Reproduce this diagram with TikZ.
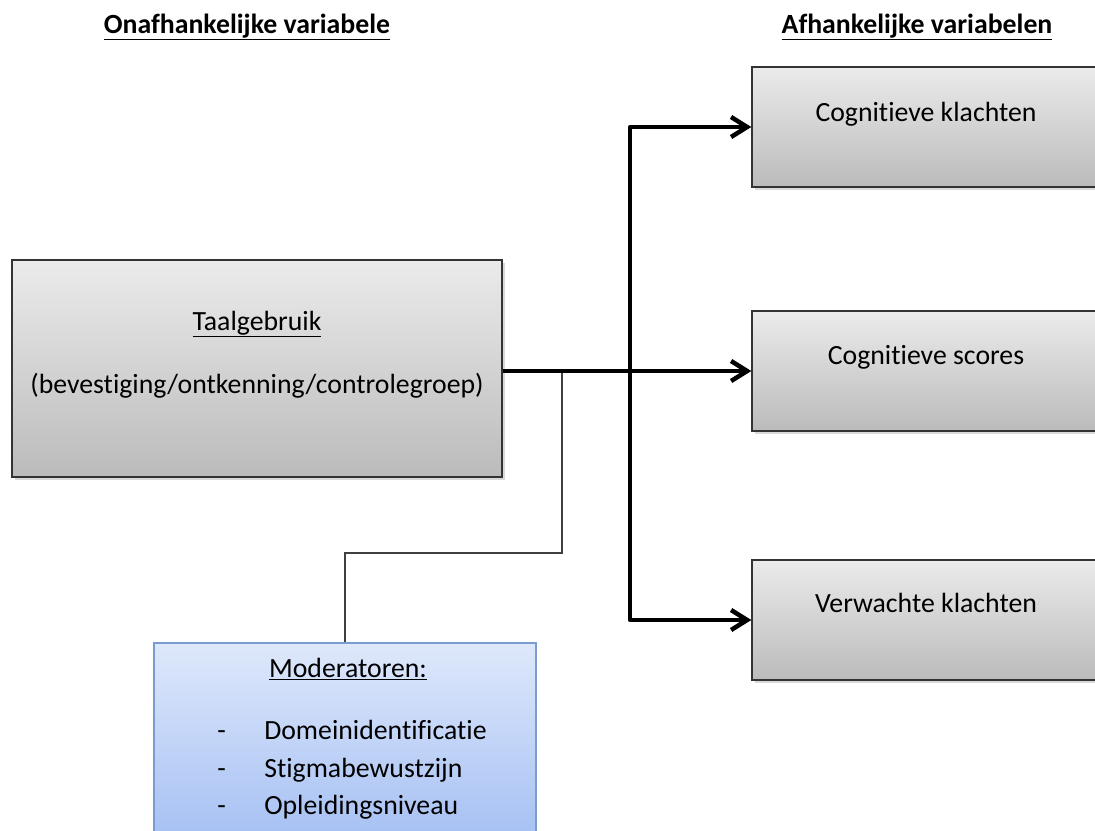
\documentclass[tikz,border=0pt]{standalone}
\usepackage{fontspec}
\setmainfont{Carlito}[Ligatures=NoCommon]
\usepackage{tikz}
\usetikzlibrary{arrows.meta,shadows}
\definecolor{grijsboven}{HTML}{EBEBEB}
\definecolor{grijsonder}{HTML}{BBBBBB}
\definecolor{blauwboven}{HTML}{DEE8FB}
\definecolor{blauwonder}{HTML}{9DBAF2}
\definecolor{blauwrand}{HTML}{7A9CCF}

\begin{document}
\begin{tikzpicture}[x=0.025cm, y=-0.025cm, inner sep=0pt, >={Straight Barb[length=4mm,width=5mm]},
  font=\fontsize{19.75}{24}\selectfont,
  vak/.style={rectangle, draw=black!80, line width=0.9pt, top color=grijsboven, bottom color=grijsonder, drop shadow={opacity=0.3, shadow xshift=0.7mm, shadow yshift=-0.7mm}},
  modvak/.style={rectangle, draw=blauwrand, line width=1pt, top color=blauwboven, bottom color=blauwonder},
  pijl/.style={->, line width=3.2pt, line join=round},
  dun/.style={draw=black!75, line width=1.1pt}]
\useasboundingbox (0,0) rectangle (1095,830);
\clip (0,0) rectangle (1095,830);
\node (kop1) at (247,33) [anchor=base] {\textbf{\underline{Onafhankelijke variabele}}};
\node (kop2) at (917,33) [anchor=base] {\textbf{\underline{Afhankelijke variabelen}}};
\node (taal) at (257,368.5) [vak, minimum width=12.25cm, minimum height=5.425cm] {};
\node (taal1) at (257,330) [anchor=base] {\underline{Taalgebruik}};
\node (taal2) at (257,393) [anchor=base] {(bevestiging/ontkenning/controlegroep)};
\node (klacht) at (926,127) [vak, minimum width=8.7cm, minimum height=3cm] {};
\node (score) at (926,371) [vak, minimum width=8.7cm, minimum height=3cm] {};
\node (verw) at (926,620) [vak, minimum width=8.7cm, minimum height=3cm] {};
\node (klacht1) at (926,121) [anchor=base] {Cognitieve klachten};
\node (score1) at (926,364) [anchor=base] {Cognitieve scores};
\node (verw1) at (926,612) [anchor=base] {Verwachte klachten};
\node (mod) at (345,756.5) [modvak, minimum width=9.55cm, minimum height=5.675cm] {};
\node (mod1) at (348,677) [anchor=base] {\underline{Moderatoren:}};
\node (dom) at (217,739) [anchor=base west] {\makebox[1.175cm][l]{-}Domeinidentificatie};
\node (stig) at (217,777) [anchor=base west] {\makebox[1.175cm][l]{-}Stigmabewustzijn};
\node (opl) at (217,814) [anchor=base west] {\makebox[1.175cm][l]{-}Opleidingsniveau};
\coordinate (haak) at (562,371);
\coordinate (knik) at (562,553);
\coordinate (splits) at (630,371);
\draw[dun] (haak) -- (knik) -| (mod.north); 
\draw[pijl] (taal.east |- score.west) -- (score.west); 
\draw[pijl] (splits) |- (klacht.west); 
\draw[pijl] (splits) |- (verw.west); 
\end{tikzpicture}
\end{document}
